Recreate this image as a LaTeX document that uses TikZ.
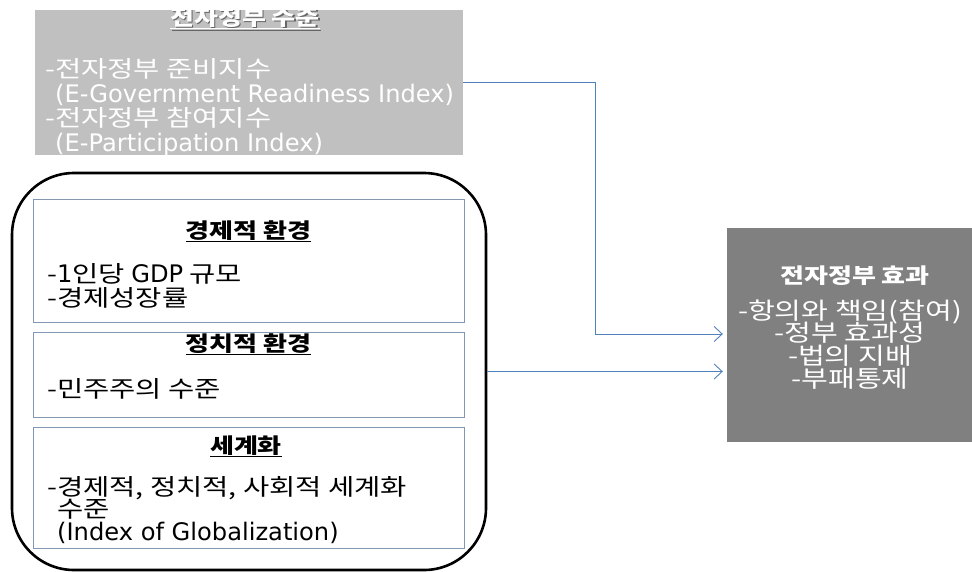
\documentclass[tikz,border=0pt]{standalone}
\usepackage{fontspec}
\setmainfont{Noto Sans CJK KR}[FakeStretch=1.24]
\newfontfamily\lat{DejaVu Sans}[Scale=1.05]
\usetikzlibrary{arrows.meta}
\definecolor{topgray}{RGB}{192,192,192}
\definecolor{effgray}{RGB}{128,128,128}
\definecolor{innerline}{RGB}{132,151,176}
\definecolor{conncol}{RGB}{79,129,189}
\tikzset{
  inbox/.style={draw=innerline, line width=1pt, fill=white, rectangle, inner sep=0pt},
  ttl/.style={anchor=base, inner sep=0pt, text height=16pt, text depth=3pt, font=\fontsize{21}{21}\selectfont\bfseries},
  body/.style={anchor=base west, inner sep=0pt, text height=16pt, text depth=4pt, font=\fontsize{23}{23}\selectfont},
  cbody/.style={anchor=base, inner sep=0pt, text height=15pt, text depth=4pt, font=\fontsize{23.5}{23.5}\selectfont, text=white},
  conn/.style={draw=conncol, line width=0.9pt, -{Straight Barb[length=8pt,width=15pt,line width=0.9pt]}, shorten >=4pt}
}
\begin{document}
\begin{tikzpicture}[x=1pt,y=-1pt]
\useasboundingbox (0,0) rectangle (972,571);
\clip (0,0) rectangle (972,571);
\fill[white] (0,0) rectangle (972,571);

% top box
\node[rectangle, fill=topgray, inner sep=0pt, minimum width=428pt, minimum height=145pt] (level) at (249,82.5) {};
\begin{scope}
\clip (35,10) rectangle (463,155);
\node[ttl, text=black!60] (lvlshadow) at (246.5,26.5) {\underline{전자정부 수준}};
\node[ttl, text=white] (lvltitle) at (245,25) {\underline{전자정부 수준}};
\node[body, text=white] (lv1) at (45,77) {-전자정부 준비지수};
\node[body, text=white] (lv2) at (55,102.5) {\lat (E-Government Readiness Index)};
\node[body, text=white] (lv3) at (45,126.5) {-전자정부 참여지수};
\node[body, text=white] (lv4) at (55,151.5) {\lat (E-Participation Index)};
\end{scope}

% big rounded box
\node[rectangle, draw=black, line width=2.6pt, rounded corners=62pt, inner sep=0pt, minimum width=474pt, minimum height=397pt] (env) at (249,371.5) {};

% economic
\node[inbox, minimum width=431pt, minimum height=123pt] (econ) at (248.5,260.5) {};
\node[ttl] (econt) at (248.5,238) {\underline{경제적 환경}};
\node[body] (econ1) at (47,282) {-{\lat 1}인당 {\lat GDP} 규모};
\node[body] (econ2) at (47,306.5) {-경제성장률};

% political
\node[inbox, minimum width=431pt, minimum height=85pt] (pol) at (248.5,374.5) {};
\node[ttl] (polt) at (248.5,351) {\underline{정치적 환경}};
\node[body] (pol1) at (47,397.5) {-민주주의 수준};

% globalization
\node[inbox, minimum width=431pt, minimum height=121pt] (glob) at (248.5,487.5) {};
\node[ttl] (globt) at (246,453) {\underline{세계화}};
\node[body] (glob1) at (47,495.5) {-경제적, 정치적, 사회적 세계화};
\node[body] (glob2) at (57,517.5) {수준};
\node[body] (glob3) at (57,540.5) {\lat (Index of Globalization)};

% effect box
\node[rectangle, fill=effgray, inner sep=0pt, minimum width=258pt, minimum height=214pt] (effect) at (856,335) {};
\node[ttl, text=white] (efft) at (855,283) {전자정부 효과};
\node[cbody] (eff1) at (850,319) {-항의와 책임(참여)};
\node[cbody] (eff2) at (850,341.5) {-정부 효과성};
\node[cbody] (eff3) at (850,364.5) {-법의 지배};
\node[cbody] (eff4) at (850,387) {-부패통제};

% connectors
\coordinate (bend) at (595,334);
\draw[conn] (level.east) -| (bend) -- (bend -| effect.west);
\draw[conn] (env.east) -- (env.east -| effect.west);
\end{tikzpicture}
\end{document}
